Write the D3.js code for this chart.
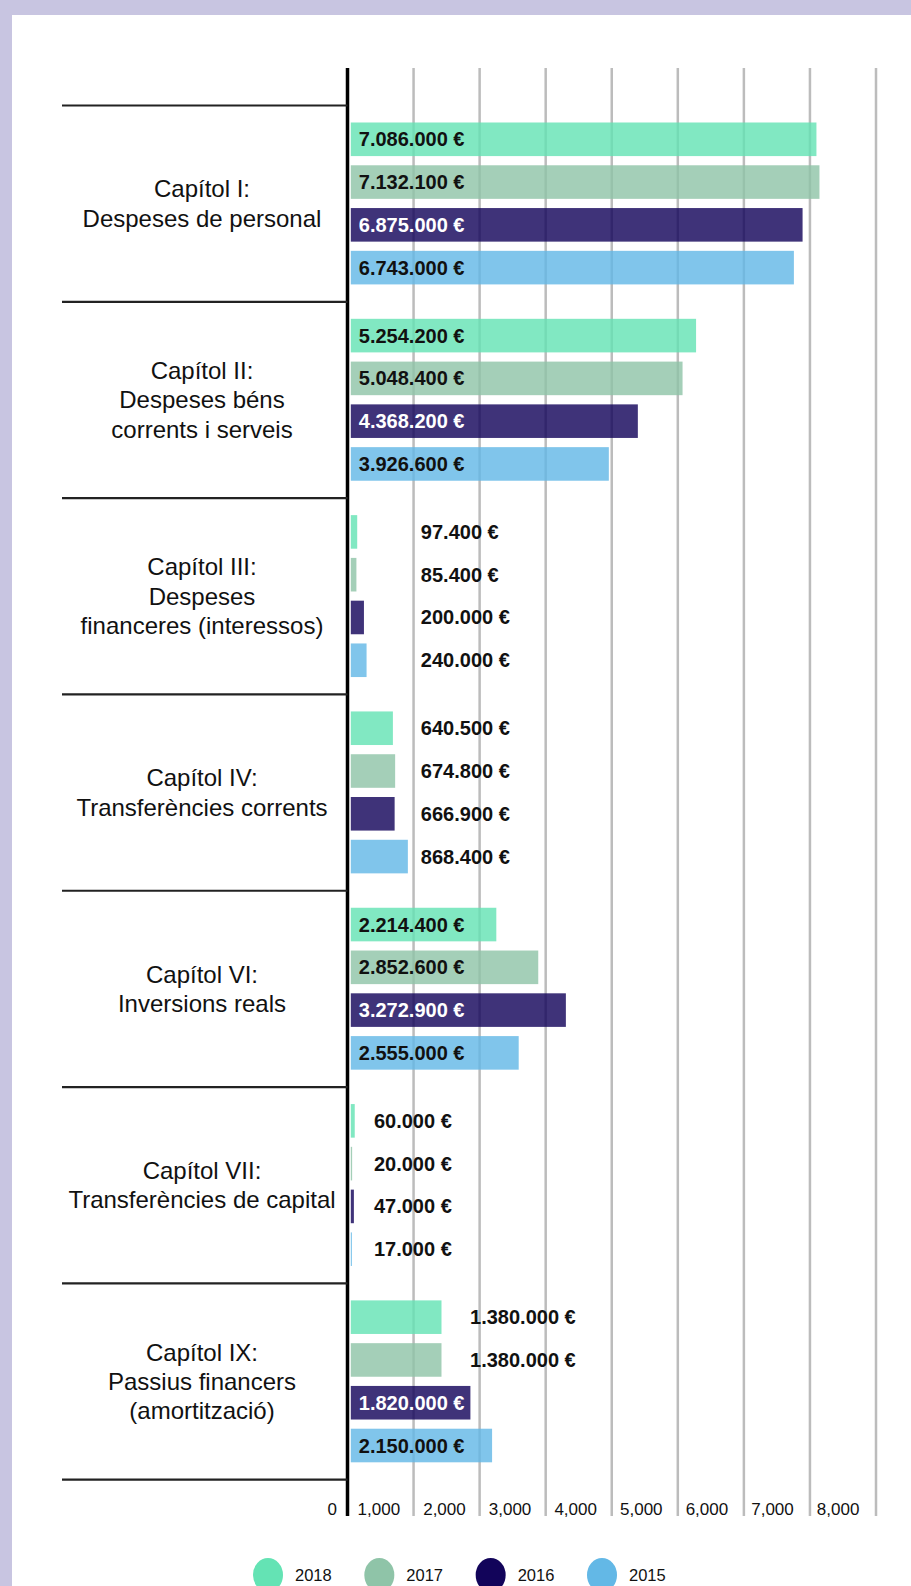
<!DOCTYPE html>
<html>
<head>
<meta charset="utf-8">
<script src="https://cdn.jsdelivr.net/npm/d3@7"></script>
<style>
  html, body { margin: 0; padding: 0; background: #c8c5e1; }
  svg { display: block; }
  text { font-family: "Liberation Sans", Arial, Helvetica, sans-serif; fill: #111; }
</style>
</head>
<body>
<svg id="chart" width="911" height="1586"></svg>
<script>
// ---------- DATA (values in thousands of €) ----------
const categories = [
  "Capítol I:\nDespeses de personal",
  "Capítol II:\nDespeses béns\ncorrents i serveis",
  "Capítol III:\nDespeses\nfinanceres (interessos)",
  "Capítol IV:\nTransferències corrents",
  "Capítol VI:\nInversions reals",
  "Capítol VII:\nTransferències de capital",
  "Capítol IX:\nPassius financers\n(amortització)"
];
const years = ["2018", "2017", "2016", "2015"];
const values2018 = [7086, 5254.2, 97.4, 640.5, 2214.4, 60, 1380];
const values2017 = [7132.1, 5048.4, 85.4, 674.8, 2852.6, 20, 1380];
const values2016 = [6875, 4368.2, 200, 666.9, 3272.9, 47, 1820];
const values2015 = [6743, 3926.6, 240, 868.4, 2555, 17, 2150];
const xTickValues = [0, 1000, 2000, 3000, 4000, 5000, 6000, 7000, 8000];
// where the labels of short bars are anchored, in axis units (per category)
const outsideLabelAt = [null, null, 1110, 1110, null, 400, 1855];

const seriesValues = [values2018, values2017, values2016, values2015];
const colors = ["#64e3b4", "#8fc4a8", "#12045a", "#63b8e6"];
const labelColors = ["#111", "#111", "#fff", "#111"];

// ---------- LAYOUT ----------
const W = 911, H = 1586;
const svg = d3.select("#chart");

svg.append("rect").attr("x", 0).attr("y", 0).attr("width", W).attr("height", H).attr("fill", "#c8c5e1");
svg.append("rect").attr("x", 12).attr("y", 15).attr("width", W - 12).attr("height", H - 15).attr("fill", "#fff");

// grid / axis scale and bar scale (bars start at the right edge of the axis)
const x = d3.scaleLinear().domain([0, 8000]).range([347.5, 876]);
const xBar = d3.scaleLinear().domain([0, 8000]).range([350.8, 876.5]);
const y = d3.scaleBand().domain(d3.range(categories.length)).range([105.5, 1479.7]).padding(0);
const yInner = d3.scaleBand().domain(d3.range(years.length)).range([17, y.bandwidth() - 17.4])
  .paddingInner(0.215).paddingOuter(0);

const gridTop = 68, gridBottom = 1516;

// grid lines
svg.append("g").selectAll("line").data(xTickValues.filter(d => d > 0)).join("line")
  .attr("x1", d => x(d)).attr("x2", d => x(d))
  .attr("y1", gridTop).attr("y2", gridBottom)
  .attr("stroke", "#bcbcbc").attr("stroke-width", 2.5);

// bars
const rows = [];
categories.forEach((c, ci) => {
  years.forEach((yr, si) => {
    rows.push({ ci, si, v: seriesValues[si][ci] });
  });
});

const euro = d3.formatLocale({ decimal: ",", thousands: ".", grouping: [3], currency: ["", " €"] }).format(",.0f");

svg.append("g").selectAll("rect").data(rows).join("rect")
  .attr("x", xBar(0))
  .attr("y", d => y(d.ci) + yInner(d.si))
  .attr("width", d => xBar(d.v) - xBar(0))
  .attr("height", yInner.bandwidth())
  .attr("fill", d => colors[d.si])
  .attr("fill-opacity", 0.81);

// axis line
svg.append("line")
  .attr("x1", x(0)).attr("x2", x(0)).attr("y1", gridTop).attr("y2", gridBottom)
  .attr("stroke", "#000").attr("stroke-width", 3.5);

// category separators
svg.append("g").selectAll("line").data(d3.range(categories.length + 1)).join("line")
  .attr("x1", 62).attr("x2", x(0))
  .attr("y1", i => i < categories.length ? y(i) : y(categories.length - 1) + y.bandwidth())
  .attr("y2", i => i < categories.length ? y(i) : y(categories.length - 1) + y.bandwidth())
  .attr("stroke", "#222").attr("stroke-width", 2.2);

// category labels
const catG = svg.append("g");
categories.forEach((c, ci) => {
  const lines = c.split("\n");
  const cy = y(ci) + y.bandwidth() / 2;
  const t = catG.append("text")
    .attr("text-anchor", "middle")
    .attr("font-size", 24);
  lines.forEach((ln, li) => {
    t.append("tspan")
      .attr("x", 202)
      .attr("y", cy + (li - (lines.length - 1) / 2) * 29.3)
      .attr("dy", "0.35em")
      .text(ln);
  });
});

// value labels
const labelFont = 20;
svg.append("g").selectAll("text").data(rows).join("text")
  .attr("font-size", labelFont)
  .attr("font-weight", "bold")
  .each(function(d) {
    const txt = euro(d.v * 1000) + " €";
    const sel = d3.select(this).text(txt);
    const w = this.getComputedTextLength();
    const inside = (xBar(d.v) - xBar(0)) > w + 8;
    const cy = y(d.ci) + yInner(d.si) + yInner.bandwidth() / 2;
    if (inside) {
      sel.attr("x", xBar(0) + 8).attr("y", cy).attr("dy", "0.35em")
        .style("fill", labelColors[d.si]);
    } else {
      const ax = outsideLabelAt[d.ci] != null ? x(outsideLabelAt[d.ci]) : xBar(d.v) + 12;
      sel.attr("x", ax).attr("y", cy).attr("dy", "0.35em").style("fill", "#111");
    }
  });

// tick labels
svg.append("g").selectAll("text").data(xTickValues).join("text")
  .attr("x", d => x(d) - (d === 0 ? 10.5 : 13 + d / 1000 * 0.45))
  .attr("y", 1515)
  .attr("text-anchor", "end")
  .attr("font-size", 17)
  .text(d => d3.format(",")(d));

// legend
const lx = d3.scalePoint().domain(years).range([268, 602]);
const lg = svg.append("g").selectAll("g").data(years).join("g")
  .attr("transform", d => `translate(${lx(d)},1575)`);
lg.append("ellipse").attr("rx", 15).attr("ry", 17)
  .attr("fill", (d, i) => colors[i]);
lg.append("text").attr("x", 27).attr("y", 5.5).attr("font-size", 16.5).text(d => d);
</script>
</body>
</html>
